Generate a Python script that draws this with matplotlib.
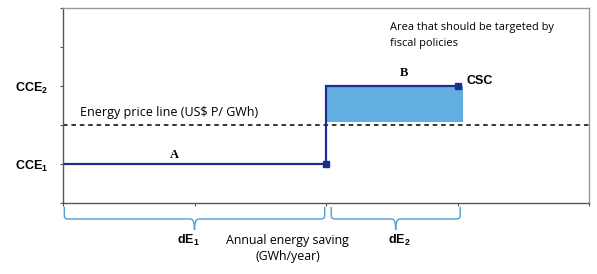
import matplotlib
matplotlib.use('Agg')
import matplotlib.pyplot as plt
from matplotlib.path import Path
from matplotlib.patches import PathPatch

plt.rcParams['mathtext.fontset'] = 'custom'
plt.rcParams['mathtext.bf'] = 'Liberation Sans:bold'
plt.rcParams['mathtext.rm'] = 'Liberation Sans'
plt.rcParams['mathtext.default'] = 'bf'

# step curve of conserved energy cost
step_x = [0, 2, 2, 3]
step_y = [1, 1, 3, 3]
marker_x = [2, 3]
marker_y = [1, 3]
price_level = 2
# shaded area above the price line
area_x = [2, 3.04]
area_low = 2.08
area_high = 3
# braces under the x axis
brace_spans = [(0.01, 1.99), (2.04, 3.02)]
ytick_pos = [0, 1, 2, 3, 4, 5]
ytick_lab = ['', 'CCE$_1$', '', 'CCE$_2$', '', '']
xtick_pos = [0, 1, 2, 3, 4]

navy = '#1b2f8e'
lightblue = '#62aee0'
bracecol = '#4d9fd3'

fig = plt.figure(figsize=(5.97, 2.74), dpi=100)
ax = fig.add_axes([63 / 597, 1 - 203 / 274, 526 / 597, 195 / 274])

ax.fill_between(area_x, area_low, area_high, color=lightblue, lw=0)
ax.axhline(price_level, color='black', lw=1.1, ls=(0, (3, 2.5)))
ax.plot(step_x, step_y, color=navy, lw=1.6, solid_joinstyle='miter')
ax.plot(marker_x, marker_y, 's', color=navy, ms=5)

ax.set_xlim(0, 4)
ax.set_ylim(0, 5)
ax.set_xticks(xtick_pos)
ax.set_xticklabels([])
ax.set_yticks(ytick_pos)
ax.set_yticklabels(ytick_lab, fontfamily='Liberation Sans', fontweight='bold', fontsize=9)
ax.tick_params(direction='out', length=2.5, width=0.8, colors='#555555', labelcolor='black', pad=8)
for s in ['left', 'bottom']:
    ax.spines[s].set_color('#555555')
    ax.spines[s].set_linewidth(1.0)
for s in ['top', 'right']:
    ax.spines[s].set_color('#999999')
    ax.spines[s].set_linewidth(1.0)


def brace(x0, x1, y_top=-0.1, y_mid=-0.41, y_tip=-0.69, r=0.03, dy=0.08):
    xm = (x0 + x1) / 2.
    verts = [(x0, y_top), (x0, y_mid + dy), (x0, y_mid), (x0 + r, y_mid),
             (xm - r, y_mid), (xm, y_mid), (xm, y_tip),
             (xm, y_mid), (xm + r, y_mid), (x1 - r, y_mid),
             (x1, y_mid), (x1, y_mid + dy), (x1, y_top)]
    codes = [Path.MOVETO, Path.LINETO, Path.CURVE3, Path.CURVE3,
             Path.LINETO, Path.CURVE3, Path.CURVE3,
             Path.CURVE3, Path.CURVE3, Path.LINETO,
             Path.CURVE3, Path.CURVE3, Path.LINETO]
    p = PathPatch(Path(verts, codes), fc='none', ec=bracecol, lw=1.0, clip_on=False)
    ax.add_patch(p)


for (a, b) in brace_spans:
    brace(a, b)

note_font = 'Open Sans'
ax.text(0.13, 2.15, 'Energy price line (US$ P/ GWh)', fontfamily=note_font, fontsize=9,
        va='bottom', ha='left')
ax.text(2.49, 4.65, 'Area that should be targeted by\nfiscal policies', fontfamily=note_font,
        fontsize=7.9, va='top', ha='left', linespacing=1.65)
ax.text(2.59, 3.33, 'B', fontfamily='Liberation Serif', fontweight='bold', fontsize=9,
        ha='center', va='center')
ax.text(0.85, 1.23, 'A', fontfamily='Liberation Serif', fontweight='bold', fontsize=9,
        ha='center', va='center')
ax.text(3.07, 3.13, 'CSC', fontfamily='Liberation Sans', fontweight='bold', fontsize=9,
        ha='left', va='center')
ax.text(0.95, -0.95, 'dE$_1$', fontfamily='Liberation Sans', fontweight='bold', fontsize=9,
        ha='center', va='center', clip_on=False)
ax.text(2.56, -0.95, 'dE$_2$', fontfamily='Liberation Sans', fontweight='bold', fontsize=9,
        ha='center', va='center', clip_on=False)
ax.text(1.24, -0.95, 'Annual energy saving', fontfamily=note_font, fontsize=8.9,
        ha='left', va='center')
ax.text(1.71, -1.38, '(GWh/year)', fontfamily=note_font, fontsize=8.9,
        ha='center', va='center')

fig.savefig('out.png', dpi=100)
